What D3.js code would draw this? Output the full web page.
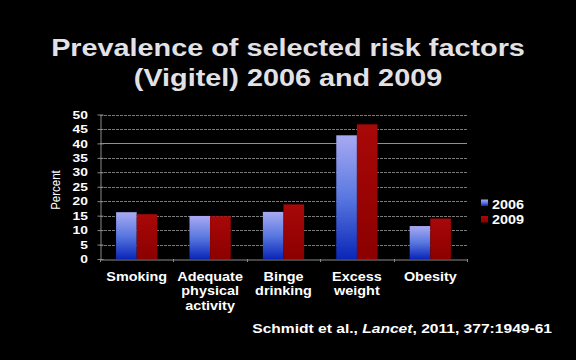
<!DOCTYPE html>
<html><head><meta charset="utf-8">
<script src="https://cdn.jsdelivr.net/npm/d3@7"></script>
<style>body{margin:0;background:#000}svg{display:block}</style>
</head><body>
<svg id="c" width="576" height="360"></svg>
<script>
const categories = [["Smoking"],["Adequate","physical","activity"],["Binge","drinking"],["Excess","weight"],["Obesity"]];
const seriesNames = ["2006","2009"];
const values2006 = [16.2, 14.9, 16.3, 42.8, 11.4];
const values2009 = [15.5, 14.8, 18.9, 46.6, 14.0];
const yTicks = [0,5,10,15,20,25,30,35,40,45,50];
const titleLines = ["Prevalence of selected risk factors","(Vigitel) 2006 and 2009"];

const SX = 1.2; // horizontal stretch of the slide text
const svg = d3.select("#c");
svg.append("rect").attr("width",576).attr("height",360).attr("fill","#000");
const defs = svg.append("defs");
const gb = defs.append("linearGradient").attr("id","gb").attr("x1",0).attr("y1",0).attr("x2",0).attr("y2",1);
gb.append("stop").attr("offset","0%").attr("stop-color","#a8aaf2");
gb.append("stop").attr("offset","50%").attr("stop-color","#5a78e0");
gb.append("stop").attr("offset","100%").attr("stop-color","#0a26b8");
const gr = defs.append("linearGradient").attr("id","gr").attr("x1",0).attr("y1",0).attr("x2",0).attr("y2",1);
gr.append("stop").attr("offset","0%").attr("stop-color","#a80808");
gr.append("stop").attr("offset","100%").attr("stop-color","#8c0000");
const fills = ["url(#gb)","url(#gr)"];

const font = "Arial, 'Liberation Sans', sans-serif";
function stext(x0,y0,opts){
  const g = svg.append("g").attr("transform",`translate(${x0},${y0}) scale(${SX},1)`);
  return g.append("text").attr("x",0).attr("y",0).attr("fill",opts.fill||"#fff")
    .attr("font-family",font).attr("font-weight",opts.weight||"bold").attr("font-size",opts.size)
    .attr("text-anchor",opts.anchor||"start");
}

const x = d3.scaleBand().domain(d3.range(categories.length)).range([100,467]);
const y = d3.scaleLinear().domain([0,50]).range([259,114.5]);
const xs = d3.scaleBand().domain([0,1]).range([0,x.bandwidth()]).paddingOuter(0.78).paddingInner(0);

// grid
svg.append("g").selectAll("line").data(yTicks.filter(d=>d>0)).join("line")
  .attr("x1",100).attr("x2",467).attr("y1",d=>Math.round(y(d))+0.5).attr("y2",d=>Math.round(y(d))+0.5)
  .attr("stroke",d=>d===40?"#909090":"#7a7a7a").attr("stroke-width",1)
  .attr("stroke-dasharray",d=>d===40?null:"3,1");

// bars
const series = [values2006, values2009];
series.forEach((vals,si)=>{
  svg.append("g").selectAll("rect").data(vals).join("rect")
    .attr("x",(d,i)=>x(i)+xs(si)).attr("width",xs.bandwidth())
    .attr("y",d=>y(d)).attr("height",d=>y(0)-y(d))
    .attr("fill",fills[si]);
});

// axes
const ya = svg.append("g").attr("transform","translate(100.5,0)")
  .call(d3.axisLeft(y).tickValues(yTicks).tickSizeInner(3).tickSizeOuter(0).tickPadding(4));
ya.select(".domain").attr("stroke","#8a8a8a");
ya.selectAll(".tick line").attr("stroke","#8a8a8a").attr("x1",3);
ya.selectAll("text").attr("fill","#fff").attr("font-family",font).attr("font-weight","bold")
  .attr("font-size",11.5).attr("x",-10.5).attr("transform",`scale(${SX},1)`);

const xa = svg.append("g").attr("transform",`translate(0,${Math.round(y(0))+0.5})`)
  .call(d3.axisBottom(x).tickSize(0).tickFormat(""));
xa.select(".domain").attr("stroke","#8a8a8a");
svg.append("g").selectAll("line").data(d3.range(categories.length+1)).join("line")
  .attr("x1",i=>Math.round(100+i*x.step())+0.5).attr("x2",i=>Math.round(100+i*x.step())+0.5)
  .attr("y1",y(0)).attr("y2",y(0)+3).attr("stroke","#8a8a8a");

// category labels
categories.forEach((lines,i)=>{
  const t = stext(x(i)+x.bandwidth()/2, 281, {size:12, anchor:"middle"});
  lines.forEach((l,j)=>t.append("tspan").attr("x",0).attr("y",j*14.5).text(l));
});

// y label
svg.append("text").attr("transform","translate(60,190) rotate(-90) scale(1,1.15)").attr("text-anchor","middle")
  .attr("fill","#fff").attr("font-family",font).attr("font-size",11.5).text("Percent");

// legend
seriesNames.forEach((n,i)=>{
  svg.append("rect").attr("x",481).attr("y",199.5+i*16.5).attr("width",7).attr("height",6.5).attr("fill",fills[i]);
  stext(492,208.5+i*15,{size:12}).text(n);
});

// title
titleLines.forEach((l,i)=>{
  stext(288,56+i*30,{size:24, anchor:"middle", fill:"#e2e2e6"}).text(l);
});

// citation
const cit = stext(552,333,{size:13, anchor:"end"});
cit.append("tspan").text("Schmidt et al., ");
cit.append("tspan").attr("font-style","italic").text("Lancet");
cit.append("tspan").text(", 2011, 377:1949-61");
</script>
</body></html>
